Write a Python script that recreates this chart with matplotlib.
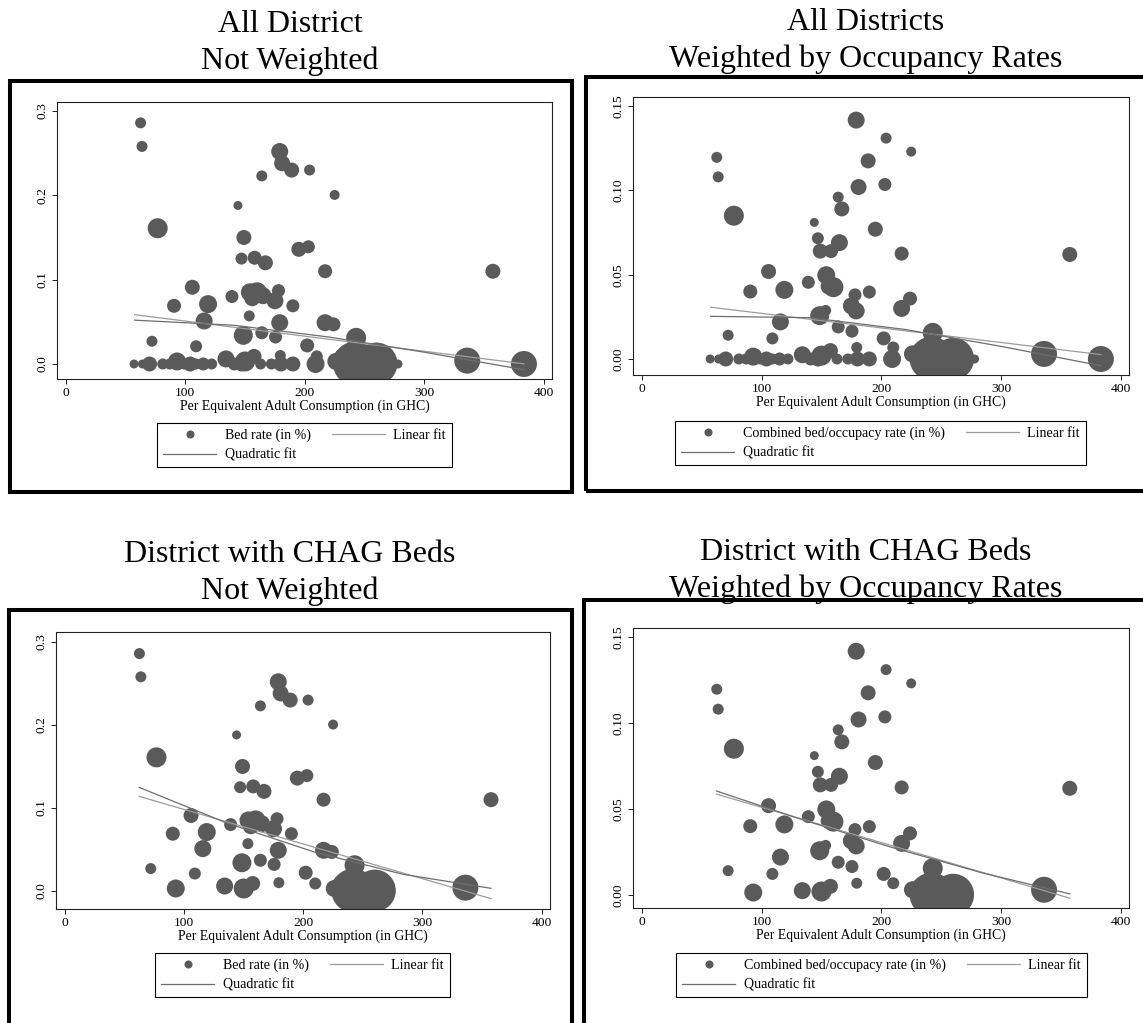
import matplotlib
matplotlib.use("Agg")
import matplotlib.pyplot as plt
from matplotlib.lines import Line2D
from matplotlib.patches import Rectangle
import numpy as np

# =====================================================================
# DATA
# =====================================================================
# districts with CHAG beds: consumption, weight, bed rate, combined rate
chag_cons = [62.5, 63.7, 76.8, 179, 181, 189, 204, 164, 225, 144,
             149, 147, 158, 167, 165, 195, 203, 217, 357.5, 105.8,
             139, 154, 160, 156, 178, 175, 90.5, 119, 190, 115.7,
             153.5, 179, 217, 224, 148.5, 164, 175.5, 72, 109, 202,
             210, 179.5, 243, 93, 134, 150, 157.5, 226, 232, 242,
             260, 336]
chag_weight = [121, 121, 400, 289, 256, 225, 121, 121, 100, 81,
               225, 144, 196, 225, 289, 225, 169, 196, 225, 225,
               169, 324, 400, 256, 169, 289, 196, 324, 169, 289,
               121, 289, 289, 196, 361, 169, 169, 121, 144, 196,
               144, 121, 400, 324, 289, 400, 225, 289, 324, 1936,
               1764, 676]
chag_bed = [0.286, 0.258, 0.161, 0.252, 0.238, 0.230, 0.230, 0.223, 0.2005, 0.188,
            0.150, 0.125, 0.126, 0.120, 0.081, 0.136, 0.139, 0.110, 0.110, 0.091,
            0.080, 0.085, 0.085, 0.078, 0.087, 0.075, 0.069, 0.071, 0.069, 0.051,
            0.057, 0.049, 0.049, 0.047, 0.034, 0.037, 0.032, 0.027, 0.021, 0.022,
            0.009, 0.010, 0.031, 0.003, 0.006, 0.003, 0.009, 0.003, 0.008, 0.0005,
            0.0005, 0.004]
chag_comb = [0.1196, 0.108, 0.085, 0.1417, 0.102, 0.1175, 0.131, 0.096, 0.123, 0.081,
             0.064, 0.0716, 0.064, 0.089, 0.069, 0.077, 0.1035, 0.0625, 0.062, 0.0519,
             0.0455, 0.0497, 0.0426, 0.043, 0.038, 0.0315, 0.040, 0.041, 0.0397, 0.022,
             0.0288, 0.0285, 0.030, 0.0358, 0.0257, 0.019, 0.0165, 0.0141, 0.0122, 0.0122,
             0.0068, 0.0068, 0.0155, 0.0014, 0.0025, 0.002, 0.005, 0.003, 0.004, 0.0002,
             0.0001, 0.003]

# districts without CHAG beds (rate = 0)
zero_cons = [57, 64, 70, 81, 87, 99, 104, 109, 115, 122, 141, 147,
             163, 172, 180, 190, 209, 230, 250, 268, 274, 278, 383.5]
zero_weight = [81, 81, 225, 121, 121, 121, 225, 121, 169, 121, 169, 225,
               121, 121, 225, 225, 324, 225, 400, 324, 121, 81, 676]

# fitted lines
fit_x_all = [57.5, 140, 220, 300, 383.5]
lin_all_bed = [0.0585, 0.0437, 0.0294, 0.0151, 0.0002]
quad_all_bed = [0.0520, 0.0460, 0.0320, 0.0140, -0.0068]
lin_all_comb = [0.0307, 0.0236, 0.0167, 0.0098, 0.0026]
quad_all_comb = [0.0253, 0.0245, 0.0175, 0.0075, -0.0040]

fit_x_chag = [62.3, 136, 210, 284, 357.5]
lin_chag_bed = [0.1140, 0.0832, 0.0524, 0.0215, -0.0092]
quad_chag_bed = [0.1248, 0.0818, 0.0466, 0.0200, 0.0032]
lin_chag_comb = [0.0586, 0.0436, 0.0284, 0.0132, -0.0019]
quad_chag_comb = [0.0604, 0.0433, 0.0274, 0.0129, 0.0006]

x_ticks = [0, 100, 200, 300, 400]
bed_ticks = [0.0, 0.1, 0.2, 0.3]
bed_labels = ["0.0", "0.1", "0.2", "0.3"]
comb_ticks = [0.0, 0.05, 0.10, 0.15]
comb_labels = ["0.00", "0.05", "0.10", "0.15"]

# =====================================================================
# STYLE
# =====================================================================
plt.rcParams["font.family"] = ["Liberation Serif", "DejaVu Serif"]

W, H = 1143, 1023
DOT = "#5a5a5a"
LIN_C = "#9c9c9c"
QUAD_C = "#6e6e6e"


def fx(px):
    return px / W


def fy(py):
    return 1 - py / H


fig = plt.figure(figsize=(W / 100, H / 100), dpi=100)

all_cons = chag_cons + zero_cons
all_weight = chag_weight + zero_weight
all_bed = chag_bed + [0.0] * len(zero_cons)
all_comb = chag_comb + [0.0] * len(zero_cons)

panels = [
    dict(title=["All District", "Not Weighted"], tx=290, ty=10,
         frame=(10, 81, 572, 492), ax=(57, 102, 552, 379), ylim=(-0.0178, 0.3107),
         x=all_cons, w=all_weight, y=all_bed, fx_=fit_x_all, lin=lin_all_bed, quad=quad_all_bed,
         ticks=bed_ticks, labels=bed_labels, leg="Bed rate (in %)", lx=304.5, ly=423),
    dict(title=["All Districts", "Weighted by Occupancy Rates"], tx=866, ty=8,
         frame=(586, 77, 1160, 491), ax=(633, 97, 1129, 375), ylim=(-0.0095, 0.1554),
         x=all_cons, w=all_weight, y=all_comb, fx_=fit_x_all, lin=lin_all_comb, quad=quad_all_comb,
         ticks=comb_ticks, labels=comb_labels, leg="Combined bed/occupacy rate (in %)", lx=880.5, ly=421),
    dict(title=["District with CHAG Beds", "Not Weighted"], tx=290, ty=540,
         frame=(9, 610, 572, 1040), ax=(56, 632, 550, 909), ylim=(-0.0217, 0.312),
         x=chag_cons, w=chag_weight, y=chag_bed, fx_=fit_x_chag, lin=lin_chag_bed, quad=quad_chag_bed,
         ticks=bed_ticks, labels=bed_labels, leg="Bed rate (in %)", lx=302.5, ly=953),
    dict(title=["District with CHAG Beds", "Weighted by Occupancy Rates"], tx=866, ty=538,
         frame=(584, 600, 1160, 1040), ax=(633, 628, 1129, 908), ylim=(-0.0076, 0.1552),
         x=chag_cons, w=chag_weight, y=chag_comb, fx_=fit_x_chag, lin=lin_chag_comb, quad=quad_chag_comb,
         ticks=comb_ticks, labels=comb_labels, leg="Combined bed/occupacy rate (in %)", lx=881.5, ly=953),
]

for p in panels:
    # titles
    fig.text(fx(p["tx"]), fy(p["ty"]), p["title"][0], ha="center", va="top", fontsize=23)
    fig.text(fx(p["tx"]), fy(p["ty"] + 37), p["title"][1], ha="center", va="top", fontsize=23)

    # thick outer frame
    x0, y0, x1, y1 = p["frame"]
    fig.add_artist(Rectangle((fx(x0), fy(y1)), fx(x1) - fx(x0), fy(y0) - fy(y1),
                             transform=fig.transFigure, fill=False, lw=2.9,
                             edgecolor="black", clip_on=False))

    a0, b0, a1, b1 = p["ax"]
    ax = fig.add_axes([fx(a0), fy(b1), fx(a1) - fx(a0), fy(b0) - fy(b1)])
    ax.scatter(p["x"], p["y"], s=np.array(p["w"]) * 0.518, color=DOT,
               edgecolors="none", zorder=2)
    ax.plot(p["fx_"], p["lin"], color=LIN_C, lw=0.9, zorder=3)
    ax.plot(p["fx_"], p["quad"], color=QUAD_C, lw=0.9, zorder=3)

    ax.set_xlim(-7.5, 407)
    ax.set_ylim(*p["ylim"])
    ax.set_xticks(x_ticks)
    ax.set_xticklabels([str(t) for t in x_ticks])
    ax.set_yticks(p["ticks"])
    ax.set_yticklabels(p["labels"], rotation=90, va="center")
    ax.tick_params(direction="out", length=3.3, width=0.7, labelsize=9.7, pad=2.5,
                   colors="#222222", labelcolor="black")
    ax.tick_params(axis="y", pad=3)
    for s in ax.spines.values():
        s.set_linewidth(0.8)
        s.set_color("#222222")
    ax.set_xlabel("Per Equivalent Adult Consumption (in GHC)", fontsize=9.9, labelpad=0)

    handles = [
        Line2D([], [], marker="o", linestyle="none", markersize=4.8, color=DOT),
        Line2D([], [], color=QUAD_C, lw=0.9),
        Line2D([], [], color=LIN_C, lw=0.9),
    ]
    labels = [p["leg"], "Quadratic fit", "Linear fit"]
    leg = ax.legend(handles, labels, loc="upper center", bbox_to_anchor=(fx(p["lx"]), fy(p["ly"])),
                    bbox_transform=fig.transFigure, ncol=2, fontsize=10.1, frameon=True,
                    fancybox=False, edgecolor="black", framealpha=1, borderpad=0.4,
                    labelspacing=0.45, handlelength=3.8, handletextpad=0.6,
                    columnspacing=1.5, borderaxespad=0)
    leg.get_frame().set_linewidth(0.8)

fig.savefig("out.png", dpi=100)
